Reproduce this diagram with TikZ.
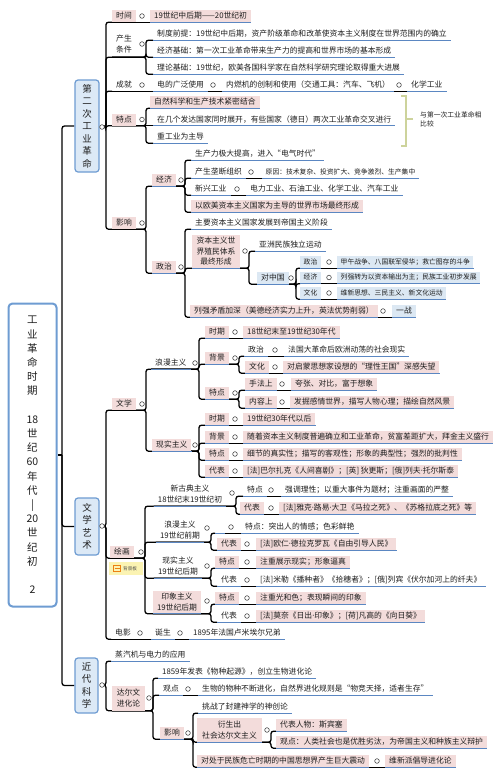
\documentclass[tikz,border=0pt]{standalone}
\usepackage{fontspec}
\setmainfont{Noto Sans CJK SC}
\newfontfamily\latinf{Noto Sans}
\usetikzlibrary{backgrounds}
\definecolor{pinkc}{HTML}{F3DCDB}
\definecolor{bluec}{HTML}{DCE8F3}
\definecolor{ulblue}{HTML}{5B87C2}
\definecolor{txt}{HTML}{1E1E1E}
\definecolor{boxfill}{HTML}{DCE9F6}
\definecolor{boxline}{HTML}{6E9CD2}
\definecolor{olivec}{HTML}{CDD39C}
\definecolor{tagc}{HTML}{FBF3B2}
\newcommand\fsA{\fontsize{7.8}{10.5}\selectfont}
\newcommand\fsB{\fontsize{6.8}{9}\selectfont}
\newcommand\fsC{\fontsize{6.8}{9}\selectfont}
\newcommand\fsL{\fontsize{9.5}{12.5}\selectfont}
\newcommand\fsR{\fontsize{10.5}{14.2}\selectfont}
\newcommand\md{{\latinf ·}}
\newcommand\mylink[3]{\draw[conn] (#1.south west) -- (#1.south west -| #2) |- (#3.south west);}
\newcommand\mystraight[2]{\draw[conn] (#1.south west) -- (#2.south west);}
\newcommand\toplink[3]{\draw[conn] (#1) -- (#1 -| #2) |- (#3.south west);}
\tikzset{
 base/.style={anchor=west, font=\fsA, text=txt, inner xsep=4pt, inner ysep=0pt, minimum height=12pt, text height=6.8pt, text depth=1.4pt},
 pk/.style={base, fill=pinkc},
 bl/.style={base, fill=bluec},
 sm/.style={font=\fsB, text height=6pt, text depth=1.2pt, inner xsep=3.5pt},
 mb/.style={anchor=center, font=\fsA, text=txt, align=center, inner xsep=4pt, inner ysep=1pt},
 ul/.style={append after command={(\tikzlastnode.south west) edge[ulc] (\tikzlastnode.south east)}},
 ulc/.style={draw=ulblue, line width=1pt},
 conn/.style={draw=black, line width=1.3pt, rounded corners=2.5pt},
 cir/.style={circle, draw=black!70, fill=white, line width=0.6pt, inner sep=0pt, minimum size=4.6pt},
 lone/.style={draw=boxline, fill=boxfill, line width=1.2pt, rounded corners=3pt, align=center, font=\fsL, text=txt, inner sep=0pt},
}
\begin{document}
\begin{tikzpicture}[x=1pt,y=-1pt]
\useasboundingbox (0,0) rectangle (500,772);
\begin{pgfonlayer}{background}\fill[white] (0,0) rectangle (500,772);\end{pgfonlayer}
\foreach \b in {106,144,145,146,153,184,185,192,193,199,211,216,235,236,239,241,249,251,256,271,275,279,286,296,333,381,387,402} {\coordinate (b\b) at (\b,0);}

% root
\node[draw=boxline, line width=2pt, rounded corners=4pt, fill=white, minimum width=48pt, minimum height=303pt, align=center, font=\fsR, text=txt, inner sep=0pt] (root) at (32.5,455) {工\\业\\革\\命\\时\\期\\\mbox{}\\18\\世\\纪\\60\\年\\代\\|\\20\\世\\纪\\初\\\mbox{}\\2};
\coordinate (sp) at (62,455);

% level 1
\node[lone, minimum width=24pt, minimum height=92pt] (L1a) at (87,126) {第\\二\\次\\工\\业\\革\\命};
\node[cir] (cA) at (102,127) {};
\node[lone, minimum width=24pt, minimum height=57pt] (L1b) at (87,526.5) {文\\学\\艺\\术};
\node[cir] (cB) at (102,526) {};
\node[lone, minimum width=23pt, minimum height=55pt] (L1c) at (86.5,685.5) {近\\代\\科\\学};
\node[cir] (cC) at (102,685) {};

% ===== Section A =====
\node[pk] (t1) at (112,16) {时间};
\node[cir] (ct1) at (142,16) {};
\node[pk,ul] (t1a) at (150,16) {19世纪中后期——20世纪初};

\node[mb, anchor=west, minimum height=26pt] (t2) at (112,44) {产生\\条件};
\node[cir] (ct2) at (142,44) {};
\node[base,ul] (t2a) at (153,34) {制度前提：19世纪中后期，资产阶级革命和改革使资本主义制度在世界范围内的确立};
\node[base,ul] (t2b) at (153,51) {经济基础：第一次工业革命带来生产力的提高和世界市场的基本形成};
\node[base,ul] (t2c) at (153,68) {理论基础：19世纪，欧美各国科学家在自然科学研究理论取得重大进展};

\node[base] (t3) at (112,85) {成就};
\node[cir] (ct3) at (142,85) {};
\node[base,ul] (t3a) at (153,85) {电的广泛使用};
\node[cir] (ct3a) at (213,85) {};
\node[base,ul] (t3b) at (222,85) {内燃机的创制和使用（交通工具：汽车、飞机）};
\node[cir] (ct3b) at (399,85) {};
\node[base,ul] (t3c) at (407,85) {化学工业};

\node[pk] (t4) at (112,119.5) {特点};
\node[cir] (ct4) at (142,119.5) {};
\node[pk,ul] (t4a) at (150,102) {自然科学和生产技术紧密结合};
\node[base,ul] (t4b) at (153,119.5) {在几个发达国家同时展开，有些国家（德日）两次工业革命交叉进行};
\node[base,ul] (t4c) at (153,137) {重工业为主导};
\draw[olivec, line width=1.6pt] (401,96) -- (406,96) -- (406,146) -- (401,146);
\draw[olivec, line width=1.6pt] (406,119) -- (413,119);
\node[font=\fsC, text=txt, align=left, anchor=west, inner sep=0pt] (cmp) at (420,119.5) {与第一次工业革命相\\比较};

\node[pk] (t5) at (112,223) {影响};
\node[cir] (ct5) at (142,223) {};
\node[pk,ul] (e1) at (152,180) {经济};
\node[cir] (ce1) at (181,180) {};
\node[base,ul] (e1a) at (191,154) {生产力极大提高，进入“电气时代”};
\node[base,ul] (e1b) at (191,172) {产生垄断组织};
\node[cir] (ce1b) at (251,172) {};
\node[base,sm,ul] (e1b1) at (262,172) {原因：技术复杂、投资扩大、竞争激烈、生产集中};
\node[base,ul] (e1c) at (191,189) {新兴工业};
\node[cir] (ce1c) at (237,189) {};
\node[base,ul] (e1c1) at (246,189) {电力工业、石油工业、化学工业、汽车工业};
\node[pk,ul] (e1d) at (191,206) {以欧美资本主义国家为主导的世界市场最终形成};

\node[pk,ul] (p1) at (152,267) {政治};
\node[cir] (cp1) at (181,267) {};
\node[base,ul] (p1a) at (191,223) {主要资本主义国家发展到帝国主义阶段};
\node[mb, fill=pinkc, ul, minimum width=48pt, minimum height=33pt] (p1b) at (216,251.5) {资本主义世\\界殖民体系\\最终形成};
\node[cir] (cp1b) at (245,251) {};
\node[base,ul] (p1b1) at (255,245) {亚洲民族独立运动};
\node[bl,ul] (p1b2) at (257,278) {对中国};
\node[cir] (cp1b2) at (291,278) {};
\node[bl,sm,ul] (q1) at (300,262) {政治};
\node[cir] (cq1) at (329,262) {};
\node[bl,sm,ul] (q1a) at (337,262) {甲午战争、八国联军侵华；救亡图存的斗争};
\node[bl,sm,ul] (q2) at (300,277.5) {经济};
\node[cir] (cq2) at (329,277.5) {};
\node[bl,sm,ul] (q2a) at (337,277.5) {列强转为以资本输出为主；民族工业初步发展};
\node[bl,sm,ul] (q3) at (300,293) {文化};
\node[cir] (cq3) at (329,293) {};
\node[bl,sm,ul] (q3a) at (337,293) {维新思想、三民主义、新文化运动};
\node[pk,ul] (p1c) at (190,311) {列强矛盾加深（美德经济实力上升，英法优势削弱）};
\node[cir] (cp1c) at (383,311) {};
\node[bl,ul] (p1c1) at (392,311) {一战};

% ===== Section B =====
\node[pk] (w1) at (112,404) {文学};
\node[cir] (cw1) at (142,404) {};
\node[base,ul] (r1) at (151,363) {浪漫主义};
\node[cir] (cr1) at (195,363) {};
\node[pk,ul] (r1a) at (205,332) {时期};
\node[cir] (cr1a) at (235,332) {};
\node[pk,ul] (r1a1) at (243,332) {18世纪末至19世纪30年代};
\node[pk,ul] (r1b) at (205,358) {背景};
\node[cir] (cr1b) at (235,358) {};
\node[base,ul] (r1b1) at (244,350) {政治};
\node[cir] (cr1b1) at (275,350) {};
\node[base,ul] (r1b1a) at (284,350) {法国大革命后欧洲动荡的社会现实};
\node[pk,ul] (r1b2) at (245,367) {文化};
\node[cir] (cr1b2) at (275,367) {};
\node[pk,ul] (r1b2a) at (283,367) {对启蒙思想家设想的“理性王国”深感失望};
\node[pk,ul] (r1c) at (205,393) {特点};
\node[cir] (cr1c) at (235,393) {};
\node[pk,ul] (r1c1) at (245,384) {手法上};
\node[cir] (cr1c1) at (282,384) {};
\node[pk,ul] (r1c1a) at (291,384) {夸张、对比，富于想象};
\node[pk,ul] (r1c2) at (245,402) {内容上};
\node[cir] (cr1c2) at (282,402) {};
\node[pk,ul] (r1c2a) at (290,402) {发掘感情世界，描写人物心理；描绘自然风景};

\node[pk,ul] (r2) at (152,445) {现实主义};
\node[cir] (cr2) at (195,445) {};
\node[pk,ul] (r2a) at (205,419) {时期};
\node[cir] (cr2a) at (235,419) {};
\node[pk,ul] (r2a1) at (243,419) {19世纪30年代以后};
\node[pk,ul] (r2b) at (205,437) {背景};
\node[cir] (cr2b) at (235,437) {};
\node[pk,ul] (r2b1) at (243,437) {随着资本主义制度普遍确立和工业革命，贫富差距扩大，拜金主义盛行};
\node[pk,ul] (r2c) at (205,454) {特点};
\node[cir] (cr2c) at (235,454) {};
\node[pk,ul] (r2c1) at (243,454) {细节的真实性；描写的客观性；形象的典型性；强烈的批判性};
\node[pk,ul] (r2d) at (205,471) {代表};
\node[cir] (cr2d) at (235,471) {};
\node[pk,ul] (r2d1) at (243,471) {[法]巴尔扎克《人间喜剧》；[英] 狄更斯；[俄]列夫\md 托尔斯泰};

\node[pk] (w2) at (110,552) {绘画};
\node[cir] (cw2) at (141,552) {};
\node[mb,ul,minimum height=24pt] (g1) at (190,494) {新古典主义\\18世纪末19世纪初};
\node[cir] (cg1) at (232,493) {};
\node[base,ul] (g1a) at (243,490) {特点};
\node[cir] (cg1a) at (271,490) {};
\node[base,ul] (g1a1) at (281,490) {强调理性；以重大事件为题材；注重画面的严整};
\node[pk,ul] (g1b) at (240,508) {代表};
\node[cir] (cg1b) at (271,508) {};
\node[pk,ul] (g1b1) at (279,508) {[法]雅克\md 路易\md 大卫《马拉之死》、《苏格拉底之死》等};

\node[mb,ul,minimum height=24pt] (g2) at (180,530) {浪漫主义\\19世纪前期};
\node[cir] (cg2) at (207,528) {};
\node[base,ul,minimum width=10pt] (g2a) at (215,527) {};
\node[cir] (cg2a) at (231,527) {};
\node[base,ul] (g2a1) at (241,527) {特点：突出人的情感；色彩鲜艳};
\node[pk,ul] (g2b) at (217,544) {代表};
\node[cir] (cg2b) at (247,544) {};
\node[pk,ul] (g2b1) at (256,544) {[法]欧仁\md 德拉克罗瓦《自由引导人民》};

\node[mb,ul,minimum height=24pt] (g3) at (178,566) {现实主义\\19世纪后期};
\node[cir] (cg3) at (207,566) {};
\node[pk,ul] (g3a) at (215,562) {特点};
\node[cir] (cg3a) at (247,562) {};
\node[pk,ul] (g3a1) at (256,562) {注重展示现实；形象逼真};
\node[base,ul] (g3b) at (217,580) {代表};
\node[cir] (cg3b) at (247,580) {};
\node[base,ul] (g3b1) at (256,580) {[法]米勒《播种者》《拾穗者》；[俄]列宾《伏尔加河上的纤夫》};

\node[mb,fill=pinkc,ul,minimum width=47pt,minimum height=23pt] (g4) at (177,602) {印象主义\\19世纪后期};
\node[cir] (cg4) at (207,601) {};
\node[pk,ul] (g4a) at (215,598) {特点};
\node[cir] (cg4a) at (247,598) {};
\node[pk,ul] (g4a1) at (256,598) {注重光和色；表现瞬间的印象};
\node[base,ul] (g4b) at (217,616) {代表};
\node[cir] (cg4b) at (247,616) {};
\node[pk,ul] (g4b1) at (256,616) {[法]莫奈《日出\md 印象》；[荷]凡高的《向日葵》};

\node[fill=tagc, minimum width=34pt, minimum height=13pt, inner sep=0pt, anchor=north west] (tag) at (109,562) {};
\draw[draw=orange!70!brown, line width=0.5pt] (113.5,565.5) rectangle (120.5,571.5);
\draw[draw=orange!70!brown, line width=0.5pt] (114.5,568.5) -- (119.5,568.5);
\node[font=\fontsize{4.6}{5}\selectfont, text=black!70, anchor=west, inner sep=0pt] (tagtxt) at (123,568.5) {背景板};

\node[base] (w3) at (111,633) {电影};
\node[cir] (cw3) at (140,633) {};
\node[base,ul] (w3a) at (151,633) {诞生};
\node[cir] (cw3a) at (180,633) {};
\node[base,ul] (w3b) at (189,633) {1895年法国卢米埃尔兄弟};

% ===== Section C =====
\node[base,ul] (k1) at (111,655) {蒸汽机与电力的应用};
\node[mb,fill=pinkc,minimum width=33pt,minimum height=25pt] (k2) at (128.5,698) {达尔文\\进化论};
\node[cir] (ck2) at (149,698) {};
\node[base,ul] (k2a) at (158,672) {1859年发表《物种起源》，创立生物进化论};
\node[base,ul] (k2b) at (159,689) {观点};
\node[cir] (ck2b) at (188,689) {};
\node[base,ul] (k2b1) at (198,689) {生物的物种不断进化，自然界进化规则是“物竞天择，适者生存”};
\node[pk,ul] (k2c) at (160,733) {影响};
\node[cir] (ck2c) at (188,733) {};
\node[base,ul] (k2c1) at (198,707) {挑战了封建神学的神创论};
\node[mb,fill=pinkc,ul,minimum width=65pt,minimum height=24pt] (k2c2) at (229.5,730) {衍生出\\社会达尔文主义};
\node[cir] (ck2c2) at (267,730) {};
\node[pk,ul] (k2c2a) at (276,725) {代表人物：斯宾塞};
\node[pk,ul] (k2c2b) at (276,742) {观点：人类社会也是优胜劣汰，为帝国主义和种族主义辩护};
\node[pk,ul] (k2c3) at (197,761) {对处于民族危亡时期的中国思想界产生巨大震动};
\node[cir] (ck2c3) at (377,761) {};
\node[pk,ul] (k2c3a) at (385,761) {维新派倡导进化论};

% ===== connectors =====
\begin{pgfonlayer}{background}
\draw[conn] (root.east) -- (sp);
\draw[conn] (sp) |- (L1a.west);
\draw[conn] (sp) |- (L1b.west);
\draw[conn] (sp) |- (L1c.west);
% A
\foreach \c in {t1,t2,t3,t4,t5} {\toplink{cA}{b106}{\c}}
\mystraight{t1}{t1a}
\foreach \c in {t2a,t2b,t2c} {\mylink{t2}{b146}{\c}}
\mystraight{t3}{t3a}
\mystraight{t3a}{t3b}
\mystraight{t3b}{t3c}
\mylink{t4}{b146}{t4a}
\mystraight{t4}{t4b}
\mylink{t4}{b146}{t4c}
\mylink{t5}{b146}{e1}
\mylink{t5}{b146}{p1}
\foreach \c in {e1a,e1b,e1c,e1d} {\mylink{e1}{b185}{\c}}
\mystraight{e1b}{e1b1}
\mystraight{e1c}{e1c1}
\foreach \c in {p1a,p1b,p1c} {\mylink{p1}{b185}{\c}}
\mylink{p1b}{b249}{p1b1}
\mylink{p1b}{b249}{p1b2}
\foreach \c in {q1,q2,q3} {\mylink{p1b2}{b296}{\c}}
\mystraight{q1}{q1a}
\mystraight{q2}{q2a}
\mystraight{q3}{q3a}
\mystraight{p1c}{p1c1}
% B
\foreach \c in {w1,w2,w3} {\toplink{cB}{b106}{\c}}
\mylink{w1}{b146}{r1}
\mylink{w1}{b146}{r2}
\foreach \c in {r1a,r1b,r1c} {\mylink{r1}{b199}{\c}}
\mystraight{r1a}{r1a1}
\mylink{r1b}{b239}{r1b1}
\mylink{r1b}{b239}{r1b2}
\mystraight{r1b1}{r1b1a}
\mystraight{r1b2}{r1b2a}
\mylink{r1c}{b239}{r1c1}
\mylink{r1c}{b239}{r1c2}
\mystraight{r1c1}{r1c1a}
\mystraight{r1c2}{r1c2a}
\foreach \c in {r2a,r2b,r2c,r2d} {\mylink{r2}{b199}{\c}}
\mystraight{r2a}{r2a1}
\mystraight{r2b}{r2b1}
\mystraight{r2c}{r2c1}
\mystraight{r2d}{r2d1}
\foreach \c in {g1,g2,g3,g4} {\mylink{w2}{b145}{\c}}
\mylink{g1}{b236}{g1a}
\mylink{g1}{b236}{g1b}
\mystraight{g1a}{g1a1}
\mystraight{g1b}{g1b1}
\mylink{g2}{b211}{g2a}
\mylink{g2}{b211}{g2b}
\mystraight{g2a}{g2a1}
\mystraight{g2b}{g2b1}
\mylink{g3}{b211}{g3a}
\mylink{g3}{b211}{g3b}
\mystraight{g3a}{g3a1}
\mystraight{g3b}{g3b1}
\mylink{g4}{b211}{g4a}
\mylink{g4}{b211}{g4b}
\mystraight{g4a}{g4a1}
\mystraight{g4b}{g4b1}
\mystraight{w3}{w3a}
\mystraight{w3a}{w3b}
% C
\toplink{cC}{b106}{k1}
\toplink{cC}{b106}{k2}
\foreach \c in {k2a,k2b,k2c} {\mylink{k2}{b153}{\c}}
\mystraight{k2b}{k2b1}
\foreach \c in {k2c1,k2c2,k2c3} {\mylink{k2c}{b193}{\c}}
\mylink{k2c2}{b271}{k2c2a}
\mylink{k2c2}{b271}{k2c2b}
\mystraight{k2c3}{k2c3a}
\end{pgfonlayer}
\end{tikzpicture}
\end{document}
